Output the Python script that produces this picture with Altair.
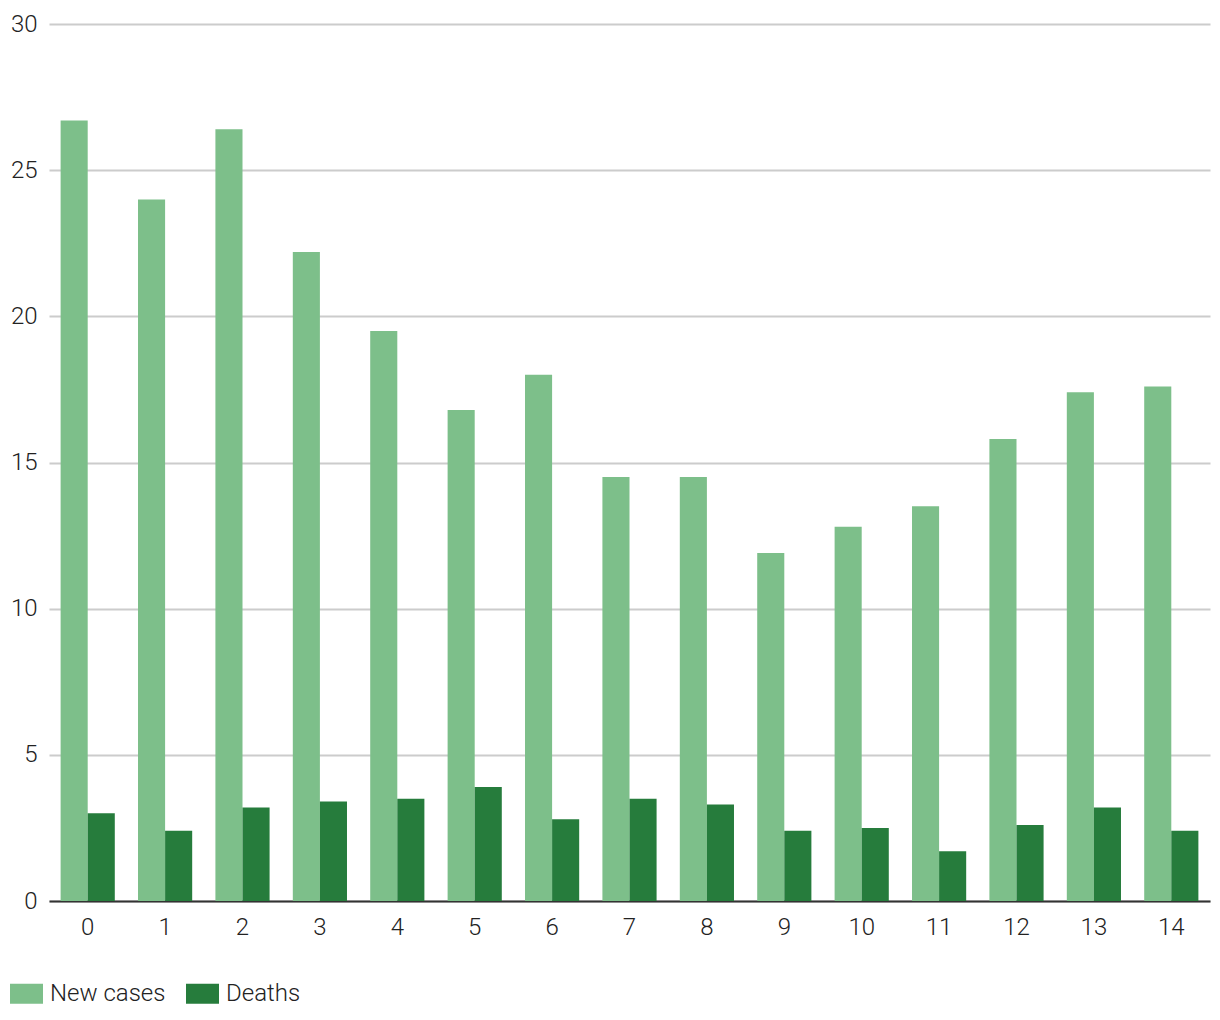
import altair as alt
import pandas as pd

days = list(range(15))
new_cases = [26.7, 24.0, 26.4, 22.2, 19.5, 16.8, 18.0, 14.5, 14.5, 11.9, 12.8, 13.5, 15.8, 17.4, 17.6]
deaths = [3.0, 2.4, 3.2, 3.4, 3.5, 3.9, 2.8, 3.5, 3.3, 2.4, 2.5, 1.7, 2.6, 3.2, 2.4]
series_names = ["New cases", "Deaths"]
series_colors = ["#7dbf8a", "#267c3c"]

rows = []
for d, nc, de in zip(days, new_cases, deaths):
    rows.append({"day": d, "series": series_names[0], "value": nc})
    rows.append({"day": d, "series": series_names[1], "value": de})
df = pd.DataFrame(rows)

FONT = "Roboto"
FS = 24

chart = alt.Chart(df).mark_bar().encode(
    x=alt.X("day:O", title=None,
            scale=alt.Scale(paddingInner=0.3, paddingOuter=0.15),
            axis=alt.Axis(labelAngle=0, ticks=False, domain=True, domainColor="#333333",
                          domainWidth=2, labelFontSize=FS, labelFont=FONT, labelFontWeight=300,
                          labelColor="#222222", labelPadding=14, grid=False)),
    xOffset=alt.XOffset("series:N", sort=series_names, scale=alt.Scale(paddingInner=0, paddingOuter=0)),
    y=alt.Y("value:Q", title=None,
            scale=alt.Scale(domain=[0, 30], nice=False),
            axis=alt.Axis(values=[0, 5, 10, 15, 20, 25, 30], ticks=False, domain=False,
                          gridColor="#cccccc", gridWidth=2, labelFontSize=FS, labelFont=FONT,
                          labelFontWeight=300, labelColor="#222222", labelPadding=12)),
    color=alt.Color("series:N", sort=series_names,
                    scale=alt.Scale(domain=series_names, range=series_colors),
                    legend=alt.Legend(title=None, orient="none", legendX=-39, legendY=953,
                                      direction="horizontal",
                                      symbolType="M-1,-0.6H1V0.6H-1Z", symbolSize=1089,
                                      symbolStrokeWidth=0, symbolOpacity=1,
                                      labelFontSize=FS, labelFont=FONT, labelFontWeight=300,
                                      labelColor="#222222", labelOffset=7, columnPadding=20)),
).properties(
    width=1161, height=877,
    autosize=alt.AutoSizeParams(type="none"),
    padding={"left": 41, "top": 16, "right": 2, "bottom": 115},
).configure_view(stroke=None)

chart.save("out.html", embed_options={"renderer": "svg", "actions": False})
